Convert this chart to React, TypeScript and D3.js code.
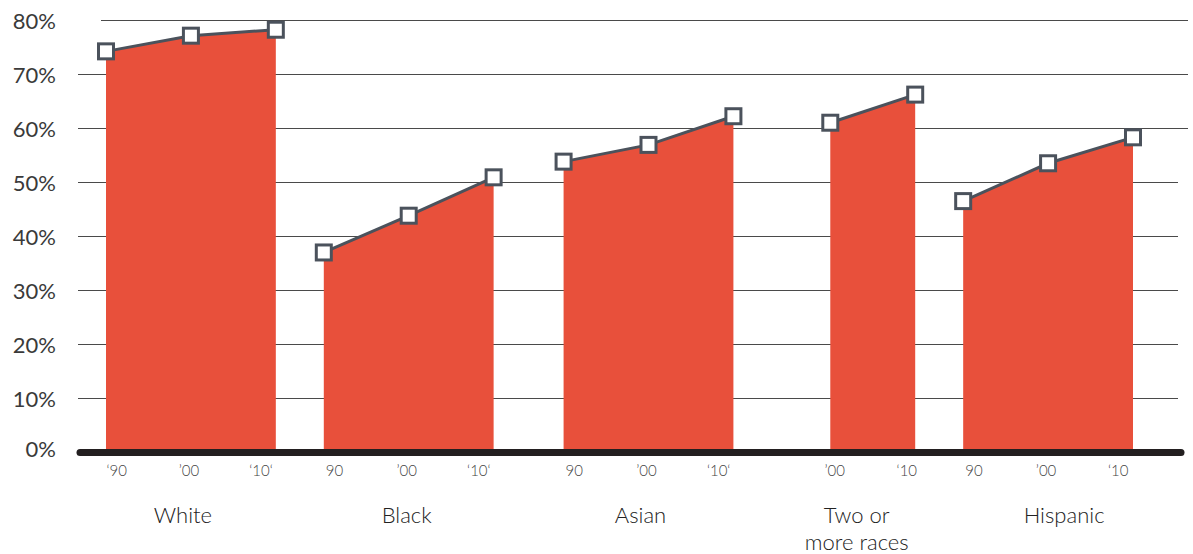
import React from "react";
import * as d3 from "d3";

// Share of each group, by census year (percent)
const groupNames = ["White", "Black", "Asian", "Two or|more races", "Hispanic"];
const whiteYears = ["‘90", "’00", "‘10‘"];
const whiteValues = [74.2, 77.1, 78.2];
const blackYears = ["90", "’00", "‘10‘"];
const blackValues = [37.0, 43.8, 50.9];
const asianYears = ["90", "’00", "‘10‘"];
const asianValues = [53.8, 56.9, 62.2];
const twoYears = ["’00", "‘10"];
const twoValues = [61.0, 66.2];
const hispanicYears = ["90", "’00", "‘10"];
const hispanicValues = [46.5, 53.5, 58.3];
const yTicks = [0, 10, 20, 30, 40, 50, 60, 70, 80];

const seriesYears = [whiteYears, blackYears, asianYears, twoYears, hispanicYears];
const seriesValues = [whiteValues, blackValues, asianValues, twoValues, hispanicValues];

// Layout: spacing before each group, in units of one year step
const gapBefore = [0, 0.565, 0.824, 1.141, 0.565];
const groupLabelNudge = [-8, -2, -8, -16, 16];

const W = 1193;
const H = 554;
const RED = "#e8503b";
const INK = "#4b525c";
const FONT = "Lato, 'Open Sans', sans-serif";

type Pt = { x: number; v: number; label: string };

export default function App() {
  // cumulative step positions for every point
  const groupsPts: Pt[][] = [];
  let cursor = 0;
  seriesValues.forEach((vals, gi) => {
    cursor += gi === 0 ? 0 : gapBefore[gi];
    const pts: Pt[] = vals.map((v, i) => ({ x: cursor + i, v, label: seriesYears[gi][i] }));
    cursor += vals.length - 1;
    groupsPts.push(pts);
  });
  const totalUnits = cursor;

  const x = d3.scaleLinear().domain([0, totalUnits]).range([106, 1133]);
  const y = d3.scaleLinear().domain([0, 80]).range([452.5, 20]);
  const stepPx = x(1) - x(0);

  const area = d3
    .area<Pt>()
    .x((d) => x(d.x))
    .y0(y(0))
    .y1((d) => y(d.v));
  const line = d3
    .line<Pt>()
    .x((d) => x(d.x))
    .y((d) => y(d.v));

  const m = 15;

  return (
    <svg
      width={W}
      height={H}
      viewBox={`0 0 ${W} ${H}`}
      style={{ position: "absolute", left: 0, top: 0, background: "#fff" }}
    >
      {/* gridlines */}
      {yTicks
        .filter((t) => t > 0)
        .map((t) => (
          <line
            key={t}
            x1={t === 80 ? 101 : 78}
            x2={t >= 60 ? 1188 : 1178}
            y1={Math.round(y(t)) + 0.5}
            y2={Math.round(y(t)) + 0.5}
            stroke="#4a4a4a"
            strokeWidth={1}
          />
        ))}
      {/* y tick labels */}
      {yTicks.map((t) => (
        <text
          key={t}
          x={56}
          y={y(t) - (t === 0 ? 4 : 0)}
          textAnchor="end"
          dominantBaseline="central"
          fontFamily={FONT}
          fontSize={22}
          fill="#3a3a3a"
        >
          {t}%
        </text>
      ))}
      {/* filled areas */}
      {groupsPts.map((pts, gi) => (
        <path key={gi} d={area(pts) || ""} fill={RED} />
      ))}
      {/* baseline */}
      <line x1={80} x2={1181} y1={y(0)} y2={y(0)} stroke="#231f20" strokeWidth={7} strokeLinecap="round" />
      {/* trend lines and markers */}
      {groupsPts.map((pts, gi) => (
        <g key={gi}>
          <path d={line(pts) || ""} fill="none" stroke={INK} strokeWidth={3} />
          {pts.map((p, i) => (
            <rect
              key={i}
              x={x(p.x) - m / 2}
              y={y(p.v) - m / 2}
              width={m}
              height={m}
              fill="#fff"
              stroke={INK}
              strokeWidth={3}
            />
          ))}
        </g>
      ))}
      {/* year labels */}
      {groupsPts.map((pts, gi) => {
        const c = (x(pts[0].x) + x(pts[pts.length - 1].x)) / 2 - 2;
        const n = pts.length;
        return pts.map((p, i) => (
          <text
            key={`${gi}-${i}`}
            x={c + (i - (n - 1) / 2) * stepPx * 0.85}
            y={470}
            textAnchor="middle"
            dominantBaseline="central"
            fontFamily={FONT}
            fontWeight={300}
            fontSize={15}
            fill="#444"
          >
            {p.label}
          </text>
        ));
      })}
      {/* group labels */}
      {groupsPts.map((pts, gi) => {
        const c = (x(pts[0].x) + x(pts[pts.length - 1].x)) / 2 + groupLabelNudge[gi];
        const lines = groupNames[gi].split("|");
        return lines.map((l, li) => (
          <text
            key={`${gi}-${li}`}
            x={c}
            y={523 + li * 27}
            textAnchor="middle"
            fontFamily={FONT}
            fontWeight={300}
            fontSize={22}
            fill="#222"
          >
            {l}
          </text>
        ));
      })}
    </svg>
  );
}
